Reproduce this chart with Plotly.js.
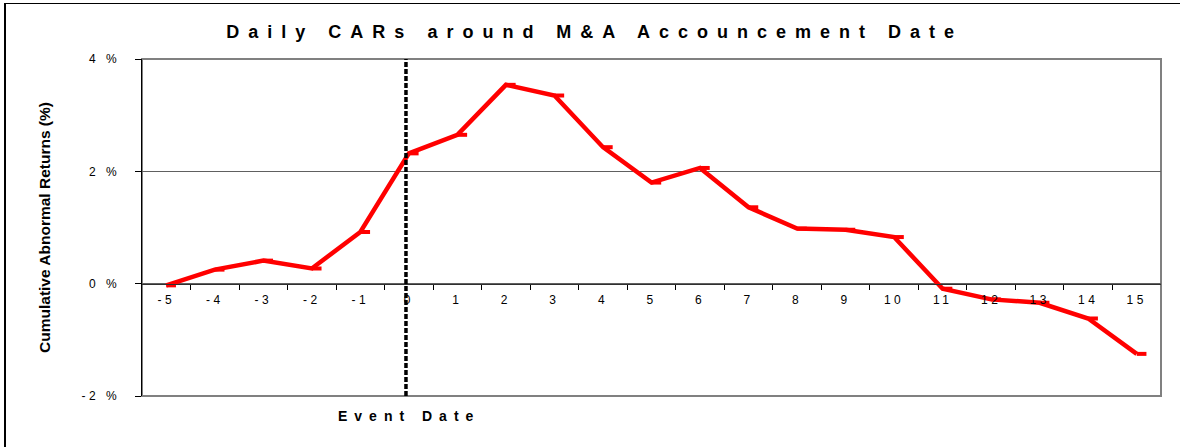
<!DOCTYPE html>
<html>
<head>
<meta charset="utf-8">
<script src="https://cdn.plot.ly/plotly-3.0.1.min.js"></script>
<style>
  html, body { margin: 0; padding: 0; background: #fff; }
  #wrap { position: relative; width: 1180px; height: 447px; overflow: hidden; }
  #chart { width: 1180px; height: 447px; }
  #frame { position: absolute; left: 4px; top: 3px; width: 1200px; height: 500px;
           border-top: 1px solid #000; border-left: 2px solid #000; pointer-events: none; }
  .gtitle { letter-spacing: 9px; }
  .xtick text { letter-spacing: 3.5px; }
  .ytick text { letter-spacing: 3.5px; }
  .annotation-text { letter-spacing: 7px; }
</style>
</head>
<body>
<div id="wrap">
  <div id="chart"></div>
  <div id="frame"></div>
</div>
<script>
// ---- data ----
const eventDays = [-5,-4,-3,-2,-1,0,1,2,3,4,5,6,7,8,9,10,11,12,13,14,15];
const dayLabels = ['-5','-4','-3','-2','-1','0','1','2','3','4','5','6','7','8','9','10','11','12','13','14','15'];
const carPct = [-0.03,0.25,0.41,0.27,0.92,2.32,2.65,3.54,3.35,2.43,1.80,2.06,1.36,0.98,0.96,0.83,-0.09,-0.28,-0.34,-0.62,-1.25];
const yTickVals = [-2,0,2,4];
const yTickText = ['-2 %','0 %','2 %','4 %'];
const eventDay = 0;

const boundaries = eventDays.slice(0, -1).map(d => d + 0.5);

const trace = {
  x: eventDays,
  y: carPct,
  type: 'scatter',
  mode: 'lines',
  line: { color: '#ff0000', width: 4.5 },
  error_x: {
    type: 'data', symmetric: false,
    array: eventDays.map(() => 0.2),
    arrayminus: eventDays.map(() => 0),
    color: '#ff0000', thickness: 4, width: 0
  },
  hoverinfo: 'x+y'
};

const layout = {
  width: 1180, height: 447,
  margin: { l: 142, r: 19, t: 59, b: 51 },
  paper_bgcolor: '#ffffff',
  plot_bgcolor: '#ffffff',
  showlegend: false,
  font: { family: 'Arial, "Liberation Sans", sans-serif', color: '#000' },
  title: {
    text: 'Daily CARs around M&A Accouncement Date',
    font: { size: 18, family: 'Arial, "Liberation Sans", sans-serif', weight: 'bold', color: '#000' },
    xref: 'container', x: 0.504, xanchor: 'center',
    yref: 'container', y: 0.93, yanchor: 'middle'
  },
  xaxis: {
    range: [-5.5, 15.5],
    tickmode: 'array', tickvals: eventDays, ticktext: dayLabels,
    ticks: '',
    tickfont: { size: 12, color: '#000' },
    showgrid: false, zeroline: false,
    showline: true, linecolor: '#303030', linewidth: 1.5,
    anchor: 'free', position: 1/3,
    ticklabelstandoff: 4,
    minor: { tickmode: 'array', tickvals: boundaries, ticks: 'outside', ticklen: 5, tickcolor: '#000', tickwidth: 1, showgrid: false },
    fixedrange: true
  },
  yaxis: {
    range: [-2, 4],
    tickmode: 'array', tickvals: yTickVals, ticktext: yTickText,
    ticks: 'outside', ticklen: 6, tickcolor: '#000', tickwidth: 1,
    tickfont: { size: 12, color: '#000' },
    ticklabelstandoff: 12,
    showgrid: true, gridcolor: '#606060', gridwidth: 1,
    zeroline: false,
    showline: true, linecolor: '#000', linewidth: 1.5,
    title: {
      text: 'Cumulative Abnormal Returns (%)',
      font: { size: 15.5, weight: 'bold', color: '#000' },
      standoff: 27
    },
    fixedrange: true
  },
  shapes: [
    { type: 'rect', xref: 'paper', yref: 'paper', x0: 0, x1: 1, y0: 0, y1: 1,
      line: { color: '#808080', width: 2 }, layer: 'below' },
    { type: 'line', xref: 'x', yref: 'paper', x0: eventDay - 0.06, x1: eventDay - 0.06, y0: 0, y1: 1,
      line: { color: '#000', width: 3.5, dash: '5px,2px' }, layer: 'above' }
  ],
  annotations: [
    { text: 'Event Date', xref: 'x', x: eventDay, yref: 'paper', y: -0.06, yanchor: 'middle',
      showarrow: false, font: { size: 14, weight: 'bold', color: '#000' } }
  ]
};

Plotly.newPlot('chart', [trace], layout, { displayModeBar: false, staticPlot: true });
</script>
</body>
</html>
